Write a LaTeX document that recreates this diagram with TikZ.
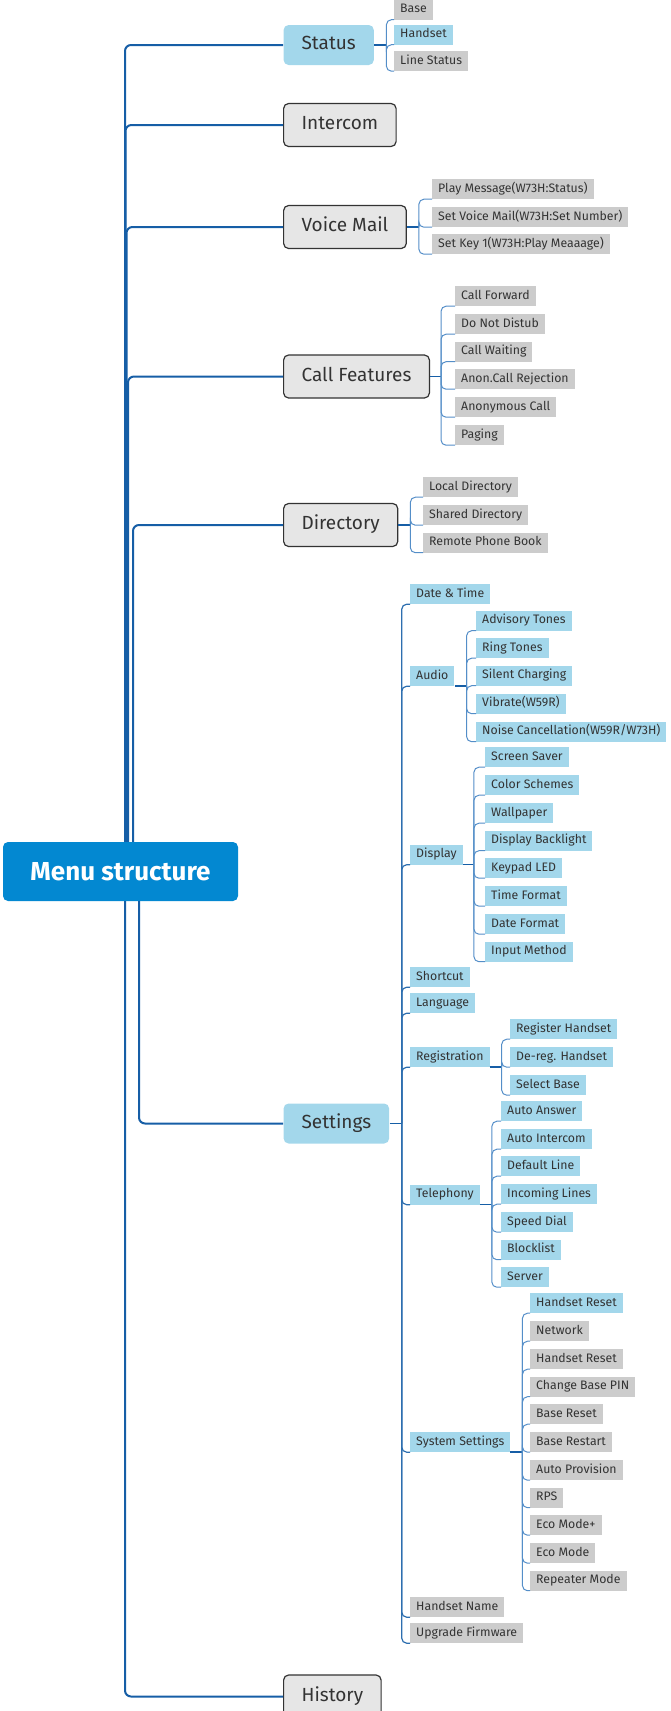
\documentclass[tikz,border=0pt]{standalone}
\usepackage{fontspec}
\setmainfont{Fira Sans}
\usepackage{tikz}

\definecolor{rootblue}{RGB}{3,136,209}
\definecolor{paleblue}{RGB}{163,215,235}
\definecolor{leafgray}{RGB}{204,204,204}
\definecolor{boxgray}{RGB}{230,230,230}
\definecolor{linkblue}{RGB}{22,94,166}
\definecolor{twigblue}{RGB}{84,142,200}
\definecolor{inktext}{RGB}{51,51,51}

\begin{document}
\begin{tikzpicture}[x=1pt, y=-1pt,
    root/.style = {fill=rootblue, rounded corners=5pt, text=white, font=\fontsize{26}{30}\selectfont\bfseries, minimum width=235pt, minimum height=59pt},
    topic/.style = {anchor=west, fill=boxgray, draw=black!80, line width=1.2pt, rounded corners=5pt, text=inktext, font=\fontsize{19}{22}\selectfont, text height=13pt, text depth=3.5pt, minimum height=43pt, inner xsep=18pt},
    topicb/.style = {topic, fill=paleblue, draw=none, minimum height=40pt},
    leaf/.style = {anchor=west, fill=leafgray, text=inktext, font=\fontsize{12.3}{14}\selectfont, text height=9pt, text depth=2.5pt, minimum height=20pt, inner xsep=6pt, inner ysep=0pt},
    leafb/.style = {leaf, fill=paleblue},
    trunk/.style = {draw=linkblue, line width=2pt, rounded corners=6pt},
    stub/.style = {draw=linkblue, line width=1.5pt},
    branch/.style = {draw=linkblue!90, line width=1.2pt, rounded corners=5pt},
    twig/.style = {draw=twigblue, line width=1pt, rounded corners=5pt}]
  \useasboundingbox (0,0) rectangle (670,1711);

  % root and main topics
  \node[root] (root) at (120.5,871.5) {Menu structure};
  \node[topicb] (status) at (283,45) {Status};
  \node[topic] (intercom) at (283,125) {Intercom};
  \node[topic] (voicemail) at (283,227) {Voice Mail};
  \node[topic] (callfeat) at (283,376.5) {Call Features};
  \node[topic] (directory) at (283,525) {Directory};
  \node[topicb] (settings) at (283,1123.5) {Settings};
  \node[topic] (history) at (283,1696.5) {History};

  \draw[trunk] ([xshift=4.5pt]root.north) |- (status.west);
  \draw[trunk] ([xshift=5pt]root.north) |- (intercom.west);
  \draw[trunk] ([xshift=6pt]root.north) |- (voicemail.west);
  \draw[trunk] ([xshift=7.5pt]root.north) |- (callfeat.west);
  \draw[trunk] ([xshift=12.5pt]root.north) |- (directory.west);
  \draw[trunk] ([xshift=18.5pt]root.south) |- (settings.west);
  \draw[trunk] ([xshift=4.5pt]root.south) |- (history.west);

  % status
  \node[leaf] (base) at (394,9.5) {Base};
  \node[leafb] (handset) at (394,34.5) {Handset};
  \node[leaf] (linestatus) at (394,61) {Line Status};
  \coordinate (statusj) at ([xshift=12pt]status.east);
  \draw[stub] (status.east) -- (statusj);
  \draw[twig] (statusj) |- (base.south west);
  \draw[twig] (statusj) |- (handset.south west);
  \draw[twig] (statusj) |- (linestatus.south west);

  % voice mail
  \node[leaf] (playmsg) at (432,189) {Play Message(W73H:Status)};
  \node[leaf] (setvm) at (432,217) {Set Voice Mail(W73H:Set Number)};
  \node[leaf] (setkey) at (432,244) {Set Key 1(W73H:Play Meaaage)};
  \coordinate (voicemailj) at ([xshift=12pt]voicemail.east);
  \draw[stub] (voicemail.east) -- (voicemailj);
  \draw[twig] (voicemailj) |- (playmsg.south west);
  \draw[twig] (voicemailj) |- (setvm.south west);
  \draw[twig] (voicemailj) |- (setkey.south west);

  % call features
  \node[leaf] (callfwd) at (455,296) {Call Forward};
  \node[leaf] (dnd) at (455,324) {Do Not Distub};
  \node[leaf] (callwait) at (455,351.5) {Call Waiting};
  \node[leaf] (anonrej) at (455,379) {Anon.Call Rejection};
  \node[leaf] (anoncall) at (455,407) {Anonymous Call};
  \node[leaf] (paging) at (455,435) {Paging};
  \coordinate (callfeatj) at ([xshift=11pt]callfeat.east);
  \draw[stub] (callfeat.east) -- (callfeatj);
  \draw[twig] (callfeatj) |- (callfwd.south west);
  \draw[twig] (callfeatj) |- (dnd.south west);
  \draw[twig] (callfeatj) |- (callwait.south west);
  \draw[twig] (callfeatj) |- (anonrej.south west);
  \draw[twig] (callfeatj) |- (anoncall.south west);
  \draw[twig] (callfeatj) |- (paging.south west);

  % directory
  \node[leaf] (localdir) at (423,487) {Local Directory};
  \node[leaf] (shareddir) at (423,515) {Shared Directory};
  \node[leaf] (remotebook) at (423,542.5) {Remote Phone Book};
  \coordinate (directoryj) at ([xshift=12pt]directory.east);
  \draw[stub] (directory.east) -- (directoryj);
  \draw[twig] (directoryj) |- (localdir.south west);
  \draw[twig] (directoryj) |- (shareddir.south west);
  \draw[twig] (directoryj) |- (remotebook.south west);

  % settings
  \node[leafb] (datetime) at (410,594) {Date \& Time};
  \node[leafb] (audio) at (410,676) {Audio};
  \node[leafb] (display) at (410,854.5) {Display};
  \node[leafb] (shortcut) at (410,977) {Shortcut};
  \node[leafb] (language) at (410,1003) {Language};
  \node[leafb] (registration) at (410,1057) {Registration};
  \node[leafb] (telephony) at (410,1194.5) {Telephony};
  \node[leafb] (syssettings) at (410,1442) {System Settings};
  \node[leaf] (handsetname) at (410,1607) {Handset Name};
  \node[leaf] (upgradefw) at (410,1633) {Upgrade Firmware};
  \coordinate (settingsj) at ([xshift=12pt]settings.east);
  \draw[stub] (settings.east) -- (settingsj);
  \draw[branch] (settingsj) |- (datetime.south west);
  \draw[branch] (settingsj) |- (audio.south west);
  \draw[branch] (settingsj) |- (display.south west);
  \draw[branch] (settingsj) |- (shortcut.south west);
  \draw[branch] (settingsj) |- (language.south west);
  \draw[branch] (settingsj) |- (registration.south west);
  \draw[branch] (settingsj) |- (telephony.south west);
  \draw[branch] (settingsj) |- (syssettings.south west);
  \draw[branch] (settingsj) |- (handsetname.south west);
  \draw[branch] (settingsj) |- (upgradefw.south west);

  % audio
  \node[leafb] (advisory) at (476,620.5) {Advisory Tones};
  \node[leafb] (ringtones) at (476,648) {Ring Tones};
  \node[leafb] (silent) at (476,675.5) {Silent Charging};
  \node[leafb] (vibrate) at (476,703.5) {Vibrate(W59R)};
  \node[leafb] (noise) at (476,731.5) {Noise Cancellation(W59R/W73H)};
  \coordinate (audioj) at ([xshift=12pt]audio.south east);
  \draw[stub] (audio.south east) -- (audioj);
  \draw[twig] (audioj) |- (advisory.south west);
  \draw[twig] (audioj) |- (ringtones.south west);
  \draw[twig] (audioj) |- (silent.south west);
  \draw[twig] (audioj) |- (vibrate.south west);
  \draw[twig] (audioj) |- (noise.south west);

  % display
  \node[leafb] (screensaver) at (485,757) {Screen Saver};
  \node[leafb] (colorschemes) at (485,785) {Color Schemes};
  \node[leafb] (wallpaper) at (485,813) {Wallpaper};
  \node[leafb] (backlight) at (485,840.5) {Display Backlight};
  \node[leafb] (keypadled) at (485,868) {Keypad LED};
  \node[leafb] (timeformat) at (485,896) {Time Format};
  \node[leafb] (dateformat) at (485,924) {Date Format};
  \node[leafb] (inputmethod) at (485,951.5) {Input Method};
  \coordinate (displayj) at ([xshift=11pt]display.south east);
  \draw[stub] (display.south east) -- (displayj);
  \draw[twig] (displayj) |- (screensaver.south west);
  \draw[twig] (displayj) |- (colorschemes.south west);
  \draw[twig] (displayj) |- (wallpaper.south west);
  \draw[twig] (displayj) |- (backlight.south west);
  \draw[twig] (displayj) |- (keypadled.south west);
  \draw[twig] (displayj) |- (timeformat.south west);
  \draw[twig] (displayj) |- (dateformat.south west);
  \draw[twig] (displayj) |- (inputmethod.south west);

  % registration
  \node[leafb] (reghandset) at (510,1029) {Register Handset};
  \node[leafb] (dereg) at (510,1057) {De-reg. Handset};
  \node[leafb] (selectbase) at (510,1085) {Select Base};
  \coordinate (registrationj) at ([xshift=12pt]registration.south east);
  \draw[stub] (registration.south east) -- (registrationj);
  \draw[twig] (registrationj) |- (reghandset.south west);
  \draw[twig] (registrationj) |- (dereg.south west);
  \draw[twig] (registrationj) |- (selectbase.south west);

  % telephony
  \node[leafb] (autoanswer) at (501,1111) {Auto Answer};
  \node[leafb] (autointercom) at (501,1139) {Auto Intercom};
  \node[leafb] (defaultline) at (501,1166) {Default Line};
  \node[leafb] (incoming) at (501,1194) {Incoming Lines};
  \node[leafb] (speeddial) at (501,1222) {Speed Dial};
  \node[leafb] (blocklist) at (501,1249.5) {Blocklist};
  \node[leafb] (server) at (501,1277) {Server};
  \coordinate (telephonyj) at ([xshift=12pt]telephony.south east);
  \draw[stub] (telephony.south east) -- (telephonyj);
  \draw[twig] (telephonyj) |- (autoanswer.south west);
  \draw[twig] (telephonyj) |- (autointercom.south west);
  \draw[twig] (telephonyj) |- (defaultline.south west);
  \draw[twig] (telephonyj) |- (incoming.south west);
  \draw[twig] (telephonyj) |- (speeddial.south west);
  \draw[twig] (telephonyj) |- (blocklist.south west);
  \draw[twig] (telephonyj) |- (server.south west);

  % system settings
  \node[leafb] (hsreset) at (530,1303) {Handset Reset};
  \node[leaf] (network) at (530,1331) {Network};
  \node[leaf] (hsresetb) at (530,1359) {Handset Reset};
  \node[leaf] (changepin) at (530,1386.5) {Change Base PIN};
  \node[leaf] (basereset) at (530,1414) {Base Reset};
  \node[leaf] (baserestart) at (530,1442) {Base Restart};
  \node[leaf] (autoprov) at (530,1470) {Auto Provision};
  \node[leaf] (rps) at (530,1497.5) {RPS};
  \node[leaf] (ecoplus) at (530,1525) {Eco Mode+};
  \node[leaf] (eco) at (530,1553) {Eco Mode};
  \node[leaf] (repeater) at (530,1580.5) {Repeater Mode};
  \coordinate (syssettingsj) at ([xshift=12pt]syssettings.south east);
  \draw[stub] (syssettings.south east) -- (syssettingsj);
  \draw[twig] (syssettingsj) |- (hsreset.south west);
  \draw[twig] (syssettingsj) |- (network.south west);
  \draw[twig] (syssettingsj) |- (hsresetb.south west);
  \draw[twig] (syssettingsj) |- (changepin.south west);
  \draw[twig] (syssettingsj) |- (basereset.south west);
  \draw[twig] (syssettingsj) |- (baserestart.south west);
  \draw[twig] (syssettingsj) |- (autoprov.south west);
  \draw[twig] (syssettingsj) |- (rps.south west);
  \draw[twig] (syssettingsj) |- (ecoplus.south west);
  \draw[twig] (syssettingsj) |- (eco.south west);
  \draw[twig] (syssettingsj) |- (repeater.south west);
\end{tikzpicture}
\end{document}
